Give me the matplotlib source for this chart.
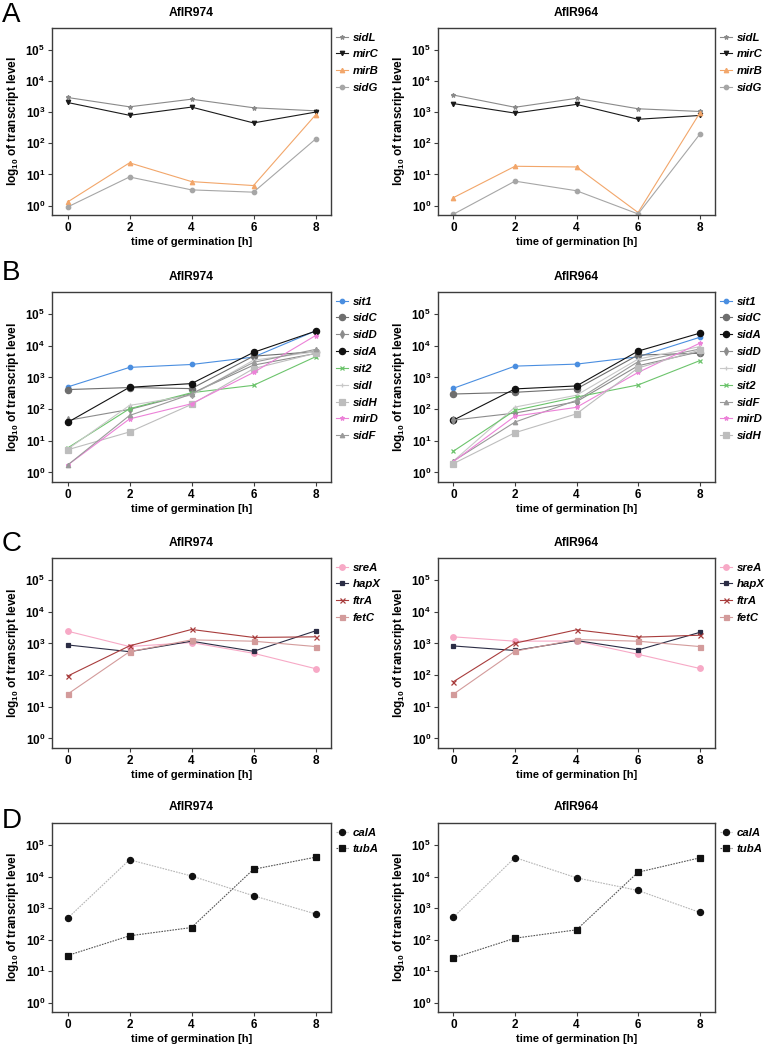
import matplotlib
matplotlib.use("Agg")
import matplotlib.pyplot as plt
from matplotlib.ticker import FuncFormatter, NullLocator
import numpy as np

plt.rcParams['font.family'] = ['Liberation Sans', 'DejaVu Sans']
plt.rcParams['mathtext.fontset'] = 'custom'
plt.rcParams['mathtext.rm'] = 'Liberation Sans'
plt.rcParams['mathtext.bf'] = 'Liberation Sans:bold'
plt.rcParams['mathtext.it'] = 'Liberation Sans:italic'

# time points
hours = [0, 2, 4, 6, 8]
strains = ["AfIR974", "AfIR964"]

# Panel A
a_974 = {
    "sidL": [2950, 1480, 2600, 1380, 1100],
    "mirC": [2040, 790, 1450, 450, 1000],
    "mirB": [1.3, 23.6, 5.9, 4.4, 810],
    "sidG": [0.9, 8.3, 3.2, 2.7, 136],
}
a_964 = {
    "sidL": [3530, 1430, 2770, 1280, 1050],
    "mirC": [1880, 930, 1770, 590, 780],
    "mirB": [1.8, 18.3, 17.4, 0.6, 920],
    "sidG": [0.53, 6.1, 3.0, 0.54, 192],
}

# Panel B
b_974 = {
    "sit1": [500, 2080, 2570, 4400, 29500],
    "sidC": [415, 480, 445, 4700, 6500],
    "sidD": [44, 98, 310, 2450, 5700],
    "sidA": [38, 490, 640, 6200, 29000],
    "sit2": [5.9, 103, 330, 565, 4500],
    "sidI": [5.4, 131, 275, 3500, 6500],
    "sidH": [5.2, 19, 141, 1900, 5800],
    "mirD": [1.7, 49, 148, 1440, 21000],
    "sidF": [1.7, 63, 300, 3000, 7700],
}
b_964 = {
    "sit1": [455, 2280, 2640, 4500, 18500],
    "sidC": [300, 340, 435, 5100, 5800],
    "sidA": [45, 435, 540, 6800, 25000],
    "sidD": [45, 75, 172, 2340, 6500],
    "sidI": [2.3, 116, 275, 3800, 9400],
    "sit2": [4.7, 91, 240, 580, 3380],
    "sidF": [2.3, 39, 190, 3150, 7900],
    "mirD": [2.2, 60, 114, 1440, 12000],
    "sidH": [1.9, 18, 71, 2000, 7300],
}

# Panel C
c_974 = {
    "sreA": [2450, 800, 1070, 490, 160],
    "hapX": [900, 550, 1180, 565, 2500],
    "ftrA": [93, 840, 2770, 1550, 1620],
    "fetC": [25, 550, 1300, 1180, 800],
}
c_964 = {
    "sreA": [1620, 1180, 1200, 455, 163],
    "hapX": [835, 600, 1240, 625, 2230],
    "ftrA": [62, 1020, 2700, 1590, 1820],
    "fetC": [25, 570, 1330, 1180, 800],
}

# Panel D
d_974 = {
    "calA": [470, 34000, 10400, 2450, 650],
    "tubA": [31, 131, 240, 17000, 41000],
}
d_964 = {
    "calA": [510, 40000, 9100, 3600, 730],
    "tubA": [26, 110, 203, 13700, 39000],
}

# line colour, marker, marker size, marker colour, linestyle
styles = {
    "sidL": ("#8a8a8a", "*", 3.2, None, "-"),
    "mirC": ("#1a1a1a", "v", 3.2, None, "-"),
    "mirB": ("#f2a66a", "^", 3.2, None, "-"),
    "sidG": ("#a6a6a6", "o", 3.2, None, "-"),
    "sit1": ("#4a8ee0", "o", 3.2, None, "-"),
    "sidC": ("#6e6e6e", "o", 4.5, None, "-"),
    "sidD": ("#8c8c8c", "d", 3.6, None, "-"),
    "sidA": ("#111111", "o", 4.5, None, "-"),
    "sit2": ("#6cc46c", "x", 3.2, None, "-"),
    "sidI": ("#c8c8c8", "+", 3.2, None, "-"),
    "sidH": ("#bdbdbd", "s", 4.0, None, "-"),
    "mirD": ("#ec82d8", "*", 3.2, None, "-"),
    "sidF": ("#9a9a9a", "^", 3.2, None, "-"),
    "sreA": ("#f7a9c6", "o", 4.0, None, "-"),
    "hapX": ("#2b2d45", "s", 3.2, None, "-"),
    "ftrA": ("#a83c3c", "x", 3.6, None, "-"),
    "fetC": ("#d39b9b", "s", 3.6, None, "-"),
    "calA": ("#b5b5b5", "o", 4.4, "#111111", (0, (1.5, 1))),
    "tubA": ("#555555", "s", 4.4, "#111111", (0, (1.5, 1))),
}

panels = [("A", a_974, a_964), ("B", b_974, b_964),
          ("C", c_974, c_964), ("D", d_974, d_964)]

# axes boxes in pixels (top, bottom) for each row
rows_px = [(28, 215), (292, 482), (558, 748), (823, 1012)]
cols_px = [(52, 331), (438, 715)]
letters_px = [22, 280, 551, 828]

W, H = 767, 1049
fig = plt.figure(figsize=(W / 100, H / 100), dpi=100)

spine_col = "#3c3c3c"
fmt = FuncFormatter(lambda v, p: r'$\mathbf{10^{%d}}$' % int(round(np.log10(v))))

for r, (letter, d1, d2) in enumerate(panels):
    top, bot = rows_px[r]
    for c, data in enumerate([d1, d2]):
        left, right = cols_px[c]
        ax = fig.add_axes([left / W, 1 - bot / H, (right - left) / W, (bot - top) / H])
        for gene, vals in data.items():
            col, mk, ms, mcol, ls = styles[gene]
            mc = mcol if mcol else col
            ax.plot(hours, vals, color=col, lw=0.8, ls=ls, marker=mk, ms=ms,
                    mfc=mc, mec=mc, mew=0.9, label=gene)
        ax.set_yscale("log")
        ax.set_ylim(0.5, 5e5)
        ax.set_xlim(-0.5, 8.5)
        ax.set_yticks([1, 10, 100, 1e3, 1e4, 1e5])
        ax.yaxis.set_major_formatter(fmt)
        ax.yaxis.set_minor_locator(NullLocator())
        ax.set_xticks(hours)
        ax.set_xticklabels([str(h) for h in hours], fontweight="bold")
        ax.tick_params(labelsize=8.5, length=3, width=0.8, color=spine_col, pad=2)
        for s in ax.spines.values():
            s.set_color(spine_col)
            s.set_linewidth(1.0)
        ax.set_xlabel("time of germination [h]", fontsize=8, fontweight="bold", labelpad=2)
        ax.set_ylabel(r"log$_{\mathbf{10}}$ of transcript level", fontsize=8.5,
                      fontweight="bold", labelpad=3)
        ax.set_title(strains[c], fontsize=8.7, fontweight="bold", pad=9)
        ax.legend(loc="upper left", bbox_to_anchor=(1.0, 1.0), frameon=False,
                  prop={"size": 8.2, "style": "italic", "weight": "bold"},
                  handlelength=1.1, handletextpad=0.4, labelspacing=0.6,
                  borderaxespad=0.2, borderpad=0.2)
    fig.text(2 / W, 1 - letters_px[r] / H, letter, fontsize=20, va="baseline", ha="left")

fig.savefig("out.png", dpi=100)
